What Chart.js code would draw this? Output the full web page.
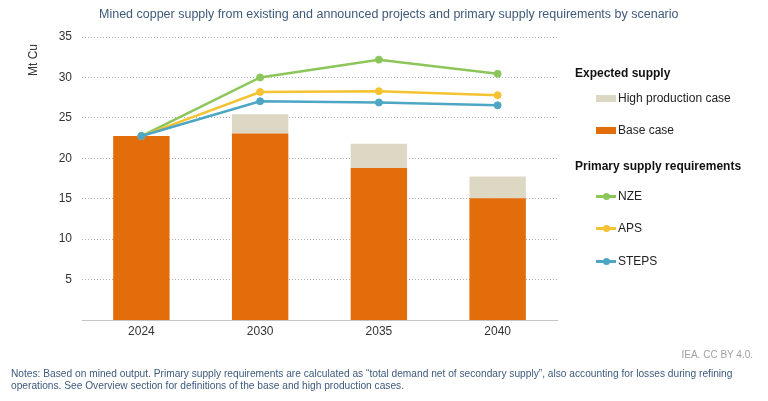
<!DOCTYPE html>
<html>
<head>
<meta charset="utf-8">
<script src="https://cdn.jsdelivr.net/npm/chart.js@4/dist/chart.umd.min.js"></script>
<style>
  html, body { margin:0; padding:0; background:#fff; }
  body { width:768px; height:401px; position:relative; overflow:hidden; font-family:"Liberation Sans", Arial, sans-serif; }
  #wrap { position:absolute; left:0; top:0; width:768px; height:401px; }
  .abs { position:absolute; white-space:nowrap; }
  #title { left:99px; top:6px; font-size:12.5px; color:#3d5a7a; line-height:16px; }
  #ylab { left:33px; top:60px; font-size:12px; color:#333; transform:translate(-50%,-50%) rotate(-90deg); line-height:14px; }
  .lgHead { font-size:12px; font-weight:bold; color:#111; line-height:14px; }
  .lgItem { font-size:12px; color:#222; line-height:14px; }
  .sw { position:absolute; }
  #source { right:15px; top:348px; font-size:10px; color:#a0a0a0; line-height:14px; }
  #notes { left:11px; top:368px; font-size:10.2px; color:#3d5a7d; line-height:11.5px; }
</style>
</head>
<body>
<div id="wrap"><canvas id="c"></canvas></div>
<div id="title" class="abs">Mined copper supply from existing and announced projects and primary supply requirements by scenario</div>
<div id="ylab" class="abs">Mt Cu</div>
<div id="legend"></div>
<div id="source" class="abs">IEA. CC BY 4.0.</div>
<div id="notes" class="abs">Notes: Based on mined output. Primary supply requirements are calculated as “total demand net of secondary supply”, also accounting for losses during refining<br>operations. See Overview section for definitions of the base and high production cases.</div>
<script>
// ---- data ----
const categories = ['2024', '2030', '2035', '2040'];
const baseCase = [22.75, 23.05, 18.8, 15.05];
const highProductionExtra = [0, 2.4, 3.0, 2.7];
const nze = [22.75, 30.0, 32.2, 30.45];
const aps = [22.75, 28.2, 28.3, 27.8];
const steps = [22.75, 27.05, 26.9, 26.55];
const yTicks = [5, 10, 15, 20, 25, 30, 35];

const COL_BASE = '#e36c0b';
const COL_HIGH = '#ddd8c4';
const COL_NZE = '#8cc65a';
const COL_APS = '#f5c232';
const COL_STEPS = '#4ca6c4';

// ---- legend (HTML) ----
const legend = document.getElementById('legend');
function addHead(text, y) {
  const d = document.createElement('div');
  d.className = 'abs lgHead'; d.textContent = text;
  d.style.left = '575px'; d.style.top = (y - 7) + 'px';
  legend.appendChild(d);
}
function addItem(text, y, kind, color) {
  if (kind === 'box') {
    const s = document.createElement('div');
    s.className = 'sw';
    s.style.cssText = `left:596px;top:${y-3}px;width:20px;height:7px;background:${color};`;
    legend.appendChild(s);
  } else {
    const l = document.createElement('div');
    l.className = 'sw';
    l.style.cssText = `left:596px;top:${y-1}px;width:20px;height:2.5px;background:${color};`;
    legend.appendChild(l);
    const p = document.createElement('div');
    p.className = 'sw';
    p.style.cssText = `left:${606-3.5}px;top:${y-3.5}px;width:7px;height:7px;border-radius:50%;background:${color};`;
    legend.appendChild(p);
  }
  const d = document.createElement('div');
  d.className = 'abs lgItem'; d.textContent = text;
  d.style.left = '618px'; d.style.top = (y - 7) + 'px';
  legend.appendChild(d);
}
addHead('Expected supply', 73);
addItem('High production case', 98, 'box', COL_HIGH);
addItem('Base case', 130, 'box', COL_BASE);
addHead('Primary supply requirements', 166);
addItem('NZE', 196, 'line', COL_NZE);
addItem('APS', 228, 'line', COL_APS);
addItem('STEPS', 261, 'line', COL_STEPS);

// ---- chart ----
function lineDs(label, data, color, order) {
  return {
    type: 'line', label, data, stack: 'l_' + label, order,
    borderColor: color, backgroundColor: color, borderWidth: 2.5,
    pointRadius: 3.5, pointBackgroundColor: color, pointBorderColor: color,
    pointBorderWidth: 1, tension: 0, fill: false
  };
}
new Chart(document.getElementById('c'), {
  data: {
    labels: categories,
    datasets: [
      lineDs('STEPS', steps, COL_STEPS, 0),
      lineDs('APS', aps, COL_APS, 1),
      lineDs('NZE', nze, COL_NZE, 2),
      { type: 'bar', label: 'Base case', data: baseCase, backgroundColor: COL_BASE, stack: 'bars', order: 10,
        borderWidth: 0, categoryPercentage: 1, barPercentage: 0.475 },
      { type: 'bar', label: 'High production case', data: highProductionExtra, backgroundColor: COL_HIGH, stack: 'bars', order: 11,
        borderWidth: 0, categoryPercentage: 1, barPercentage: 0.475 }
    ]
  },
  options: {
    responsive: true, maintainAspectRatio: false, animation: false,
    layout: { padding: { left: 0, top: 37, right: 211, bottom: 61 } },
    plugins: { legend: { display: false }, tooltip: { enabled: false }, title: { display: false } },
    scales: {
      x: {
        stacked: true,
        grid: { display: false, drawTicks: false },
        border: { display: true, color: '#c4c4c4', width: 1 },
        ticks: { color: '#333', font: { family: '"Liberation Sans", Arial, sans-serif', size: 12 }, padding: 4 },
        afterFit: (s) => { s.height = 20; }
      },
      y: {
        stacked: true, min: 0, max: 35,
        afterBuildTicks: (s) => { s.ticks = yTicks.map(v => ({ value: v })); },
        grid: { display: true, drawTicks: false, color: '#b0b0b0', lineWidth: 1 },
        border: { display: false, dash: [1, 2] },
        ticks: { color: '#333', font: { family: '"Liberation Sans", Arial, sans-serif', size: 12 }, padding: 10 },
        afterFit: (s) => { s.width = 82; }
      }
    }
  }
});
</script>
</body>
</html>
